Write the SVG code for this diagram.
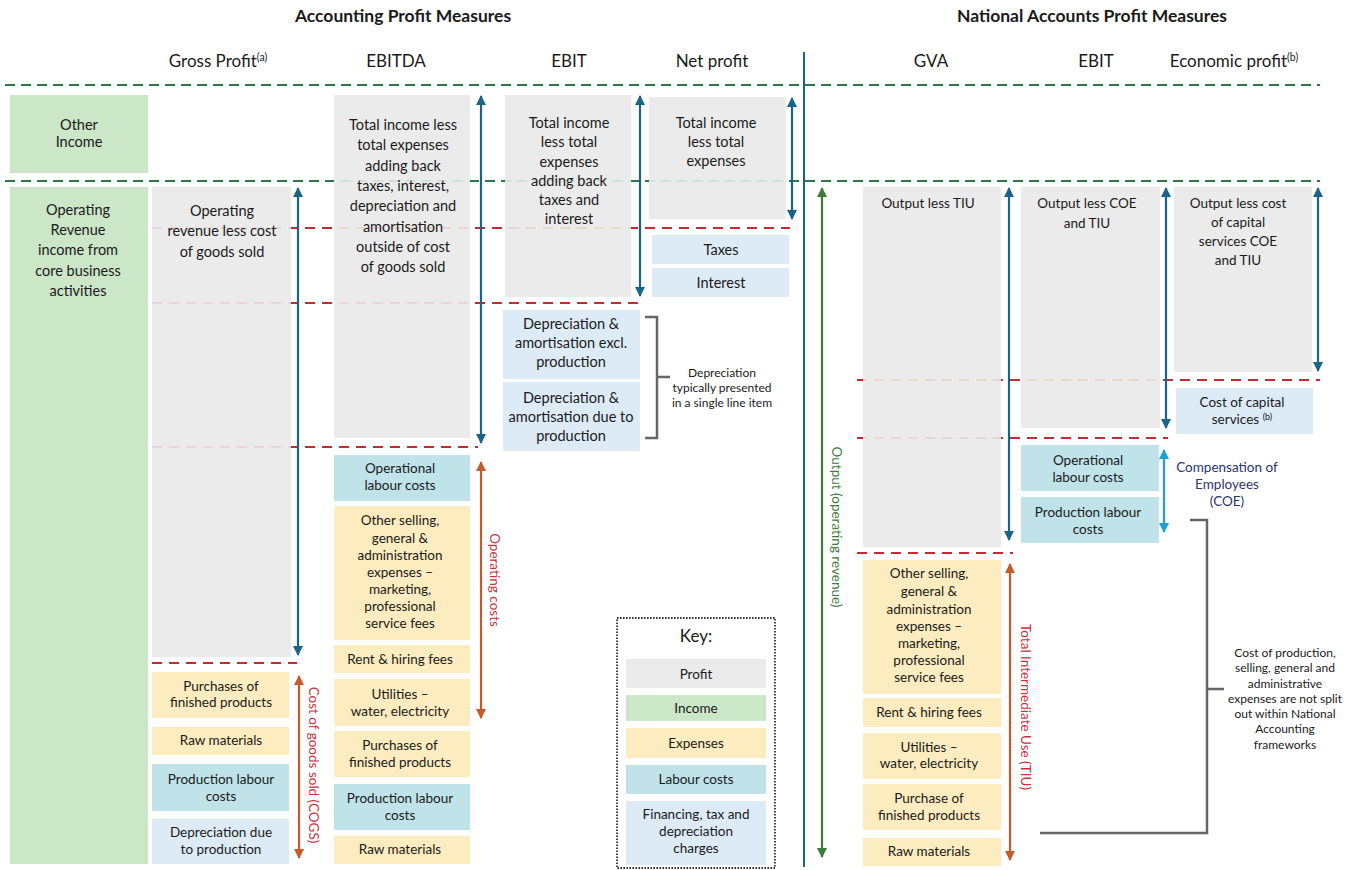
<svg xmlns="http://www.w3.org/2000/svg" width="1356" height="870" viewBox="0 0 1356 870">
<defs>
<style>
text{font-family:Lato,"Open Sans","Liberation Sans",sans-serif;fill:#1a1a1a;text-anchor:middle}
.h{font-size:17.5px;font-weight:bold}
.c{font-size:17px}
.t{font-size:14.5px}
.s{font-size:13.5px}
.xs{font-size:12px}
.red{fill:#c8323c}
.grn{fill:#3c7d3a}
.navy{fill:#2a3570}
.profit{fill:#e9e9e9;fill-opacity:0.9}
.inc{fill:#cce6c8}
.exp{fill:#fcecbf}
.lab{fill:#bfe3e9}
.fin{fill:#ddebf7}
.gd{stroke:#2d7a47;stroke-width:2.2;stroke-dasharray:10 6;fill:none}
.rd{stroke:#c8282f;stroke-width:2.2;stroke-dasharray:10 7;fill:none}
.ab{stroke:#1b6489;stroke-width:2.2;marker-start:url(#mb);marker-end:url(#mb)}
.ao{stroke:#c65a2c;stroke-width:2.2;marker-start:url(#mo);marker-end:url(#mo)}
.ag{stroke:#3c7d3a;stroke-width:2.2;marker-start:url(#mg);marker-end:url(#mg)}
.al{stroke:#1f9ed8;stroke-width:2.2;marker-start:url(#ml);marker-end:url(#ml)}
.br{stroke:#666;stroke-width:2.5;fill:none}
</style>
<marker id="mb" markerUnits="userSpaceOnUse" markerWidth="10" markerHeight="11" refX="9" refY="5" orient="auto-start-reverse"><path d="M0,0 L10,5 L0,10 z" fill="#1b6489"/></marker>
<marker id="mo" markerUnits="userSpaceOnUse" markerWidth="10" markerHeight="11" refX="9" refY="5" orient="auto-start-reverse"><path d="M0,0 L10,5 L0,10 z" fill="#c65a2c"/></marker>
<marker id="mg" markerUnits="userSpaceOnUse" markerWidth="10" markerHeight="11" refX="9" refY="5" orient="auto-start-reverse"><path d="M0,0 L10,5 L0,10 z" fill="#3c7d3a"/></marker>
<marker id="ml" markerUnits="userSpaceOnUse" markerWidth="10" markerHeight="11" refX="9" refY="5" orient="auto-start-reverse"><path d="M0,0 L10,5 L0,10 z" fill="#1f9ed8"/></marker>
</defs>
<rect width="1356" height="870" fill="#fff"/>

<g id="headers">
<text class="h" x="403" y="22">Accounting Profit Measures</text>
<text class="h" x="1092" y="22">National Accounts Profit Measures</text>
<text class="c" x="218" y="67">Gross Profit<tspan font-size="10.5" dy="-6">(a)</tspan></text>
<text class="c" x="396" y="67">EBITDA</text>
<text class="c" x="569" y="67">EBIT</text>
<text class="c" x="712" y="67">Net profit</text>
<text class="c" x="931" y="67">GVA</text>
<text class="c" x="1096" y="67">EBIT</text>
<text class="c" x="1234" y="67">Economic profit<tspan font-size="10.5" dy="-6">(b)</tspan></text>
</g>

<g id="guides">
<line class="gd" x1="5" y1="85" x2="1320" y2="85"/>
<line class="gd" x1="5" y1="181" x2="1320" y2="181"/>
<line class="rd" x1="152" y1="228" x2="790" y2="228"/>
<line class="rd" x1="152" y1="303" x2="645" y2="303"/>
<line class="rd" x1="152" y1="447" x2="478" y2="447"/>
<line class="rd" x1="152" y1="663" x2="297" y2="663"/>
<line class="rd" x1="857" y1="380" x2="1320" y2="380"/>
<line class="rd" x1="857" y1="438" x2="1168" y2="438"/>
<line class="rd" x1="857" y1="553" x2="1013" y2="553"/>
<line x1="804" y1="52" x2="804" y2="867" stroke="#1b6489" stroke-width="2"/>
</g>

<g id="other-income"><rect class="inc" x="10" y="95" width="138" height="78"/>
<text class="t" x="79" y="130">Other</text><text class="t" x="79" y="147">Income</text></g>

<g id="operating-revenue"><rect class="inc" x="10" y="187" width="138" height="677"/>
<text class="t" x="78" y="215">Operating</text><text class="t" x="78" y="235">Revenue</text><text class="t" x="78" y="255">income from</text><text class="t" x="78" y="276">core business</text><text class="t" x="78" y="296">activities</text></g>

<g id="gross-profit"><rect class="profit" x="152" y="187" width="139" height="470"/>
<text class="t" x="222" y="216">Operating</text><text class="t" x="222" y="236">revenue less cost</text><text class="t" x="222" y="257">of goods sold</text></g>

<g id="gp-purchases"><rect class="exp" x="152" y="672" width="137" height="46"/>
<text class="s" x="221" y="691">Purchases of</text><text class="s" x="221" y="707">finished products</text></g>
<g id="gp-raw"><rect class="exp" x="152" y="727" width="137" height="28"/>
<text class="s" x="221" y="745">Raw materials</text></g>
<g id="gp-prodlabour"><rect class="lab" x="152" y="764" width="137" height="47"/>
<text class="s" x="221" y="784">Production labour</text><text class="s" x="221" y="801">costs</text></g>
<g id="gp-dep"><rect class="fin" x="152" y="819" width="137" height="45"/>
<text class="s" x="221" y="837">Depreciation due</text><text class="s" x="221" y="854">to production</text></g>

<g id="ebitda"><rect class="profit" x="334" y="95" width="136" height="343"/>
<text class="t" x="403" y="130">Total income less</text><text class="t" x="403" y="150">total expenses</text><text class="t" x="403" y="171">adding back</text><text class="t" x="403" y="191">taxes, interest,</text><text class="t" x="403" y="211">depreciation and</text><text class="t" x="403" y="232">amortisation</text><text class="t" x="403" y="252">outside of cost</text><text class="t" x="403" y="272">of goods sold</text></g>

<g id="ebitda-oplabour"><rect class="lab" x="334" y="455" width="136" height="46"/>
<text class="s" x="400" y="473">Operational</text><text class="s" x="400" y="490">labour costs</text></g>
<g id="ebitda-other"><rect class="exp" x="334" y="506" width="136" height="134"/>
<text class="s" x="400" y="525">Other selling,</text><text class="s" x="400" y="543">general &amp;</text><text class="s" x="400" y="560">administration</text><text class="s" x="400" y="577">expenses  –</text><text class="s" x="400" y="594">marketing,</text><text class="s" x="400" y="611">professional</text><text class="s" x="400" y="628">service fees</text></g>
<g id="ebitda-rent"><rect class="exp" x="334" y="645" width="136" height="28"/>
<text class="s" x="400" y="664">Rent &amp; hiring fees</text></g>
<g id="ebitda-util"><rect class="exp" x="334" y="679" width="136" height="47"/>
<text class="s" x="400" y="699">Utilities  –</text><text class="s" x="400" y="716">water, electricity</text></g>
<g id="ebitda-purch"><rect class="exp" x="334" y="731" width="136" height="46"/>
<text class="s" x="400" y="750">Purchases of</text><text class="s" x="400" y="767">finished products</text></g>
<g id="ebitda-prodlabour"><rect class="lab" x="334" y="784" width="136" height="46"/>
<text class="s" x="400" y="803">Production labour</text><text class="s" x="400" y="820">costs</text></g>
<g id="ebitda-raw"><rect class="exp" x="334" y="836" width="136" height="28"/>
<text class="s" x="400" y="854">Raw materials</text></g>

<g id="ebit"><rect class="profit" x="505" y="95" width="126" height="202"/>
<text class="t" x="569" y="128">Total income</text><text class="t" x="569" y="147">less total</text><text class="t" x="569" y="167">expenses</text><text class="t" x="569" y="186">adding back</text><text class="t" x="569" y="205">taxes and</text><text class="t" x="569" y="224">interest</text></g>

<g id="dep-excl"><rect class="fin" x="503" y="310" width="137" height="69"/>
<text class="t" x="571" y="329">Depreciation &amp;</text><text class="t" x="571" y="348">amortisation excl.</text><text class="t" x="571" y="367">production</text></g>
<g id="dep-prod"><rect class="fin" x="503" y="382" width="137" height="69"/>
<text class="t" x="571" y="403">Depreciation &amp;</text><text class="t" x="571" y="422">amortisation due to</text><text class="t" x="571" y="441">production</text></g>
<g id="dep-note">
<text class="xs" x="722" y="377">Depreciation</text><text class="xs" x="722" y="392">typically presented</text><text class="xs" x="722" y="407">in a single line item</text></g>

<g id="net-profit"><rect class="profit" x="649" y="97" width="137" height="122"/>
<text class="t" x="716" y="128">Total income</text><text class="t" x="716" y="147">less total</text><text class="t" x="716" y="166">expenses</text></g>
<g id="taxes"><rect class="fin" x="652" y="235" width="137" height="29"/>
<text class="t" x="721" y="255">Taxes</text></g>
<g id="interest"><rect class="fin" x="652" y="268" width="137" height="29"/>
<text class="t" x="721" y="288">Interest</text></g>

<g id="key">
<rect x="617" y="618" width="158" height="250" fill="none" stroke="#333" stroke-width="1.8" stroke-dasharray="1.6 1.4"/>
<text x="696" y="642" font-size="17">Key:</text>
<rect class="profit" x="626" y="659" width="140" height="29"/><text class="s" x="696" y="679">Profit</text>
<rect class="inc" x="626" y="695" width="140" height="26"/><text class="s" x="696" y="713">Income</text>
<rect class="exp" x="626" y="728" width="140" height="30"/><text class="s" x="696" y="748">Expenses</text>
<rect class="lab" x="626" y="765" width="140" height="29"/><text class="s" x="696" y="784">Labour costs</text>
<rect class="fin" x="626" y="801" width="140" height="64"/><text class="s" x="696" y="819">Financing, tax and</text><text class="s" x="696" y="836">depreciation</text><text class="s" x="696" y="853">charges</text>
</g>

<g id="gva"><rect class="profit" x="863" y="187" width="138" height="360"/>
<text class="s" x="928" y="208">Output less TIU</text></g>

<g id="tiu-other"><rect class="exp" x="863" y="560" width="138" height="134"/>
<text class="s" x="929" y="578">Other selling,</text><text class="s" x="929" y="596">general &amp;</text><text class="s" x="929" y="614">administration</text><text class="s" x="929" y="631">expenses  –</text><text class="s" x="929" y="648">marketing,</text><text class="s" x="929" y="665">professional</text><text class="s" x="929" y="682">service fees</text></g>
<g id="tiu-rent"><rect class="exp" x="863" y="698" width="138" height="29"/>
<text class="s" x="929" y="717">Rent &amp; hiring fees</text></g>
<g id="tiu-util"><rect class="exp" x="863" y="733" width="138" height="46"/>
<text class="s" x="929" y="752">Utilities  –</text><text class="s" x="929" y="768">water, electricity</text></g>
<g id="tiu-purch"><rect class="exp" x="863" y="784" width="138" height="46"/>
<text class="s" x="929" y="803">Purchase of</text><text class="s" x="929" y="820">finished products</text></g>
<g id="tiu-raw"><rect class="exp" x="863" y="838" width="138" height="28"/>
<text class="s" x="929" y="856">Raw materials</text></g>

<g id="na-ebit"><rect class="profit" x="1021" y="187" width="139" height="241"/>
<text class="s" x="1087" y="208">Output less COE</text><text class="s" x="1087" y="228">and TIU</text></g>
<g id="na-oplabour"><rect class="lab" x="1021" y="445" width="138" height="46"/>
<text class="s" x="1088" y="465">Operational</text><text class="s" x="1088" y="482">labour costs</text></g>
<g id="na-prodlabour"><rect class="lab" x="1021" y="497" width="138" height="46"/>
<text class="s" x="1088" y="517">Production labour</text><text class="s" x="1088" y="534">costs</text></g>

<g id="economic-profit"><rect class="profit" x="1174" y="187" width="138" height="185"/>
<text class="s" x="1238" y="208">Output less cost</text><text class="s" x="1238" y="227">of capital</text><text class="s" x="1238" y="246">services COE</text><text class="s" x="1238" y="265">and TIU</text></g>
<g id="cost-capital"><rect class="fin" x="1176" y="388" width="137" height="46"/>
<text class="s" x="1242" y="407">Cost of capital</text><text class="s" x="1242" y="424">services <tspan font-size="9" dy="-4">(b)</tspan></text></g>

<g id="coe-label">
<text class="s navy" x="1227" y="472">Compensation of</text><text class="s navy" x="1227" y="489">Employees</text><text class="s navy" x="1227" y="506">(COE)</text></g>

<g id="na-note">
<text class="xs" x="1285" y="657">Cost of production,</text><text class="xs" x="1285" y="672">selling, general and</text><text class="xs" x="1285" y="688">administrative</text><text class="xs" x="1285" y="703">expenses are not split</text><text class="xs" x="1285" y="718">out within National</text><text class="xs" x="1285" y="733">Accounting</text><text class="xs" x="1285" y="749">frameworks</text></g>

<g id="connectors">
<line class="ab" x1="298" y1="188" x2="298" y2="655"/>
<line class="ao" x1="299" y1="676" x2="299" y2="858"/>
<line class="ab" x1="481" y1="96" x2="481" y2="443"/>
<line class="ao" x1="481" y1="462" x2="481" y2="718"/>
<line class="ab" x1="640" y1="96" x2="640" y2="296"/>
<line class="ab" x1="792" y1="98" x2="792" y2="219"/>
<path class="br" d="M645,317 H657 V438 H645 M657,377 H670"/>
<line class="ag" x1="822" y1="188" x2="822" y2="857"/>
<line class="ab" x1="1009" y1="188" x2="1009" y2="540"/>
<line class="ao" x1="1010" y1="564" x2="1010" y2="860"/>
<line class="ab" x1="1166" y1="188" x2="1166" y2="428"/>
<line class="ab" x1="1318" y1="188" x2="1318" y2="371"/>
<line class="al" x1="1164" y1="450" x2="1164" y2="532"/>
<path class="br" d="M1190,520 H1207 V833 H1040 M1207,689 H1224"/>
</g>

<g id="rotated-labels">
<text class="s red" transform="translate(313,765) rotate(90)" dy="4">Cost of goods sold (COGS)</text>
<text class="s red" transform="translate(494,580) rotate(90)" dy="4">Operating costs</text>
<text class="s grn" transform="translate(836,527) rotate(90)" dy="4">Output (operating revenue)</text>
<text class="s red" transform="translate(1025,707) rotate(90)" dy="4">Total Intermediate Use (TIU)</text>
</g>
</svg>
